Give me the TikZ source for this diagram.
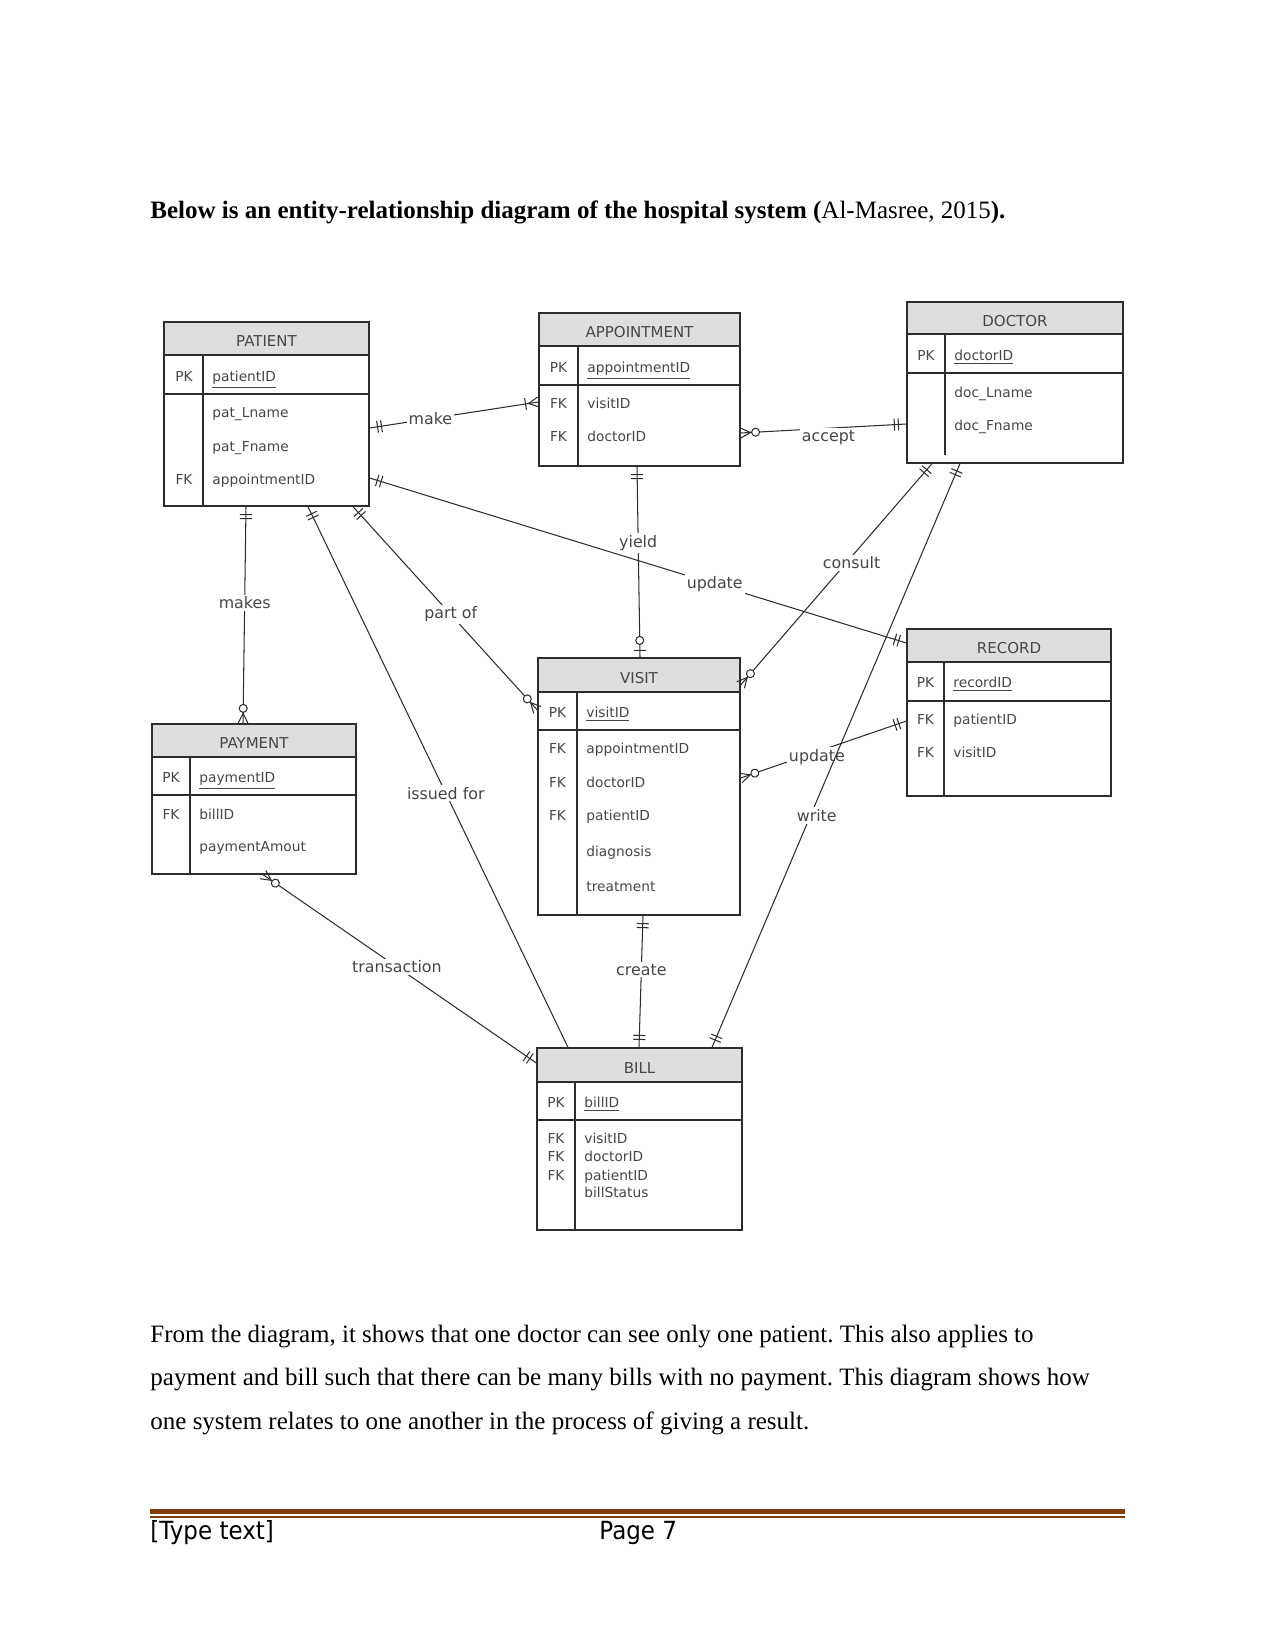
\documentclass[tikz,border=0pt]{standalone}
\usepackage{fontspec}
\setmainfont{Liberation Serif}
\newfontfamily\erfont{DejaVu Sans}
\newfontfamily\footfont[FakeStretch=0.92]{DejaVu Sans}
\frenchspacing
\usetikzlibrary{calc,fit}
\definecolor{linegray}{RGB}{45,45,45}
\definecolor{textgray}{RGB}{70,70,70}
\definecolor{headgray}{RGB}{222,222,222}
\definecolor{rulebrown}{RGB}{128,62,18}
\tikzset{
    entity/.style={draw=linegray, line width=0.6pt, inner sep=0pt},
    entity head/.style={entity, fill=headgray},
    entity name/.style={inner sep=0pt, text=textgray, text height=5pt, text depth=0pt,
        yshift=-1.4pt, font=\erfont\fontsize{7.2}{8}\selectfont},
    attr key/.style={inner sep=0pt, text=textgray, text height=5pt, text depth=0.6pt,
        font=\erfont\fontsize{6.6}{8}\selectfont},
    attr field/.style={attr key, anchor=west},
    relation/.style={draw=linegray, line width=0.5pt},
    relation label/.style={fill=white, inner sep=1pt, text=textgray,
        font=\erfont\fontsize{7.6}{9}\selectfont},
    page text/.style={anchor=west, inner sep=0pt, font=\fontsize{12}{14}\selectfont},
    % end markers, x axis points away from the entity
    one/.pic={\draw[relation] (8,-6) -- (8,6) (12,-6) -- (12,6);},
    zeroone/.pic={\draw[relation] (7,-6) -- (7,6);
        \draw[relation, fill=white] (17,0) circle[radius=4];},
    onemany/.pic={\draw[relation] (0,-5) -- (10,0) -- (0,5) (13,-6) -- (13,6);},
    zeromany/.pic={\draw[relation] (0,-5) -- (10,0) -- (0,5);
        \draw[relation, fill=white] (15,0) circle[radius=4];}
}
\newcommand\ermark[3]{\path let \p1=($(#3)-(#2)$), \n1={atan2(\y1,\x1)} in (#2) pic[rotate=\n1] {#1};}

\begin{document}
\begin{tikzpicture}[x=0.48pt, y=-0.48pt]
    \useasboundingbox (0,0) rectangle (1275,1651);

    \node[page text] (title) at (150,212)
        {\textbf{Below is an entity-relationship diagram of the hospital system (}Al-Masree, 2015\textbf{).}};

    % PATIENT
    \node[entity head, fit={(164,322) (369,355)}] (patient-head) {};
    \node[entity name] (patient-name) at (patient-head.center) {PATIENT};
    \node[entity, fit={(164,322) (369,506)}] (patient) {};
    \draw[entity] (patient.west |- 0,394) -- (patient.east |- 0,394);
    \draw[entity] (patient-head.south -| 203,0) -- (patient.south -| 203,0);
    \node[attr key] (patient-k1) at (184,377) {PK};
    \node[attr field] (patient-f1) at (212,377) {\underline{patientID}};
    \foreach \y/\k/\f [count=\i from 2] in {413/{}/pat\_Lname, 447/{}/pat\_Fname, 480/FK/appointmentID} {
        \node[attr key] (patient-k\i) at (184,\y) {\k};
        \node[attr field] (patient-f\i) at (212,\y) {\f};
    }

    % APPOINTMENT
    \node[entity head, fit={(539,313) (740,346)}] (appointment-head) {};
    \node[entity name] (appointment-name) at (appointment-head.center) {APPOINTMENT};
    \node[entity, fit={(539,313) (740,466)}] (appointment) {};
    \draw[entity] (appointment.west |- 0,385) -- (appointment.east |- 0,385);
    \draw[entity] (appointment-head.south -| 578,0) -- (appointment.south -| 578,0);
    \node[attr key] (appointment-k1) at (558.5,368) {PK};
    \node[attr field] (appointment-f1) at (587,368) {\underline{appointmentID}};
    \foreach \y/\k/\f [count=\i from 2] in {404/FK/visitID, 437/FK/doctorID} {
        \node[attr key] (appointment-k\i) at (558.5,\y) {\k};
        \node[attr field] (appointment-f\i) at (587,\y) {\f};
    }

    % DOCTOR
    \node[entity head, fit={(907,302) (1123,334)}] (doctor-head) {};
    \node[entity name] (doctor-name) at (doctor-head.center) {DOCTOR};
    \node[entity, fit={(907,302) (1123,463)}] (doctor) {};
    \draw[entity] (doctor.west |- 0,373) -- (doctor.east |- 0,373);
    \draw[entity] (doctor-head.south -| 945,0) -- (945,455);
    \node[attr key] (doctor-k1) at (926,356) {PK};
    \node[attr field] (doctor-f1) at (954,356) {\underline{doctorID}};
    \foreach \y/\k/\f [count=\i from 2] in {393/{}/doc\_Lname, 426/{}/doc\_Fname} {
        \node[attr key] (doctor-k\i) at (926,\y) {\k};
        \node[attr field] (doctor-f\i) at (954,\y) {\f};
    }

    % PAYMENT
    \node[entity head, fit={(152,724) (356,757)}] (payment-head) {};
    \node[entity name] (payment-name) at (payment-head.center) {PAYMENT};
    \node[entity, fit={(152,724) (356,874)}] (payment) {};
    \draw[entity] (payment.west |- 0,795) -- (payment.east |- 0,795);
    \draw[entity] (payment-head.south -| 190,0) -- (payment.south -| 190,0);
    \node[attr key] (payment-k1) at (171,778) {PK};
    \node[attr field] (payment-f1) at (199,778) {\underline{paymentID}};
    \foreach \y/\k/\f [count=\i from 2] in {815/FK/billID, 847/{}/paymentAmout} {
        \node[attr key] (payment-k\i) at (171,\y) {\k};
        \node[attr field] (payment-f\i) at (199,\y) {\f};
    }

    % VISIT
    \node[entity head, fit={(538,658) (740,692)}] (visit-head) {};
    \node[entity name] (visit-name) at (visit-head.center) {VISIT};
    \node[entity, fit={(538,658) (740,915)}] (visit) {};
    \draw[entity] (visit.west |- 0,730) -- (visit.east |- 0,730);
    \draw[entity] (visit-head.south -| 577,0) -- (visit.south -| 577,0);
    \node[attr key] (visit-k1) at (557.5,713) {PK};
    \node[attr field] (visit-f1) at (586,713) {\underline{visitID}};
    \foreach \y/\k/\f [count=\i from 2] in {749/FK/appointmentID, 783/FK/doctorID, 816/FK/patientID,
        852/{}/diagnosis, 887/{}/treatment} {
        \node[attr key] (visit-k\i) at (557.5,\y) {\k};
        \node[attr field] (visit-f\i) at (586,\y) {\f};
    }

    % RECORD
    \node[entity head, fit={(907,629) (1111,662)}] (record-head) {};
    \node[entity name] (record-name) at (record-head.center) {RECORD};
    \node[entity, fit={(907,629) (1111,796)}] (record) {};
    \draw[entity] (record.west |- 0,701) -- (record.east |- 0,701);
    \draw[entity] (record-head.south -| 944,0) -- (record.south -| 944,0);
    \node[attr key] (record-k1) at (925.5,683) {PK};
    \node[attr field] (record-f1) at (953,683) {\underline{recordID}};
    \foreach \y/\k/\f [count=\i from 2] in {720/FK/patientID, 753/FK/visitID} {
        \node[attr key] (record-k\i) at (925.5,\y) {\k};
        \node[attr field] (record-f\i) at (953,\y) {\f};
    }

    % BILL
    \node[entity head, fit={(537,1048) (742,1082)}] (bill-head) {};
    \node[entity name] (bill-name) at (bill-head.center) {BILL};
    \node[entity, fit={(537,1048) (742,1230)}] (bill) {};
    \draw[entity] (bill.west |- 0,1120) -- (bill.east |- 0,1120);
    \draw[entity] (bill-head.south -| 575,0) -- (bill.south -| 575,0);
    \node[attr key] (bill-k1) at (556,1103) {PK};
    \node[attr field] (bill-f1) at (584,1103) {\underline{billID}};
    \foreach \y/\k/\f [count=\i from 2] in {1139/FK/visitID, 1157/FK/doctorID, 1176/FK/patientID,
        1193/{}/billStatus} {
        \node[attr key] (bill-k\i) at (556,\y) {\k};
        \node[attr field] (bill-f\i) at (584,\y) {\f};
    }

    % connector ends
    \coordinate (M1) at (patient.east |- 0,428);
    \coordinate (M2) at (appointment.west |- 0,402);
    \coordinate (A1) at (appointment.east |- 0,433);
    \coordinate (A2) at (doctor.west |- 0,424);
    \coordinate (Y1) at (appointment.south -| 637,0);
    \coordinate (Y2) at (visit.north -| 640,0);
    \coordinate (U1) at (patient.east |- 0,478);
    \coordinate (U2) at (record.west |- 0,643);
    \coordinate (C1) at (doctor.south -| 932,0);
    \coordinate (C2) at (visit.east |- 0,685);
    \coordinate (V1) at (visit.east |- 0,778);
    \coordinate (V2) at (record.west |- 0,721);
    \coordinate (W1) at (doctor.south -| 960,0);
    \coordinate (W2) at (bill.north -| 712,0);
    \coordinate (K1) at (patient.south -| 246,0);
    \coordinate (K2) at (payment.north -| 243,0);
    \coordinate (I1) at (patient.south -| 308,0);
    \coordinate (I2) at (bill.north -| 568,0);
    \coordinate (P1) at (patient.south -| 353,0);
    \coordinate (P2) at (visit.west |- 0,710);
    \coordinate (T1) at (payment.south -| 263,0);
    \coordinate (T2) at (bill.west |- 0,1063);
    \coordinate (R1) at (visit.south -| 643,0);
    \coordinate (R2) at (bill.north -| 639,0);

    \draw[relation] (M1) -- (M2) node[relation label, pos=.36] (make) {make};
    \draw[relation] (A1) -- (A2) node[relation label, pos=.53, yshift=-4.5pt] (accept) {accept};
    \draw[relation] (Y1) -- (Y2) node[relation label, pos=.40] (yield) {yield};
    \draw[relation] (U1) -- (U2) node[relation label, pos=.643] (update-rec) {update};
    \draw[relation] (C1) -- (C2) node[relation label, pos=.42, yshift=-3pt] (consult) {consult};
    \draw[relation] (V1) -- (V2) node[relation label, pos=.46, yshift=-2.4pt] (update-vis) {update};
    \draw[relation] (W1) -- (W2) node[relation label, pos=.603, xshift=3pt] (write) {write};
    \draw[relation] (K1) -- (K2) node[relation label, pos=.445] (makes) {makes};
    \draw[relation] (I1) -- (I2) node[relation label, pos=.53] (issued) {issued for};
    \draw[relation] (P1) -- (P2) node[relation label, pos=.53] (partof) {part of};
    \draw[relation] (T1) -- (T2) node[relation label, pos=.49] (transaction) {transaction};
    \draw[relation] (R1) -- (R2) node[relation label, pos=.41] (create) {create};

    \ermark{one}{M1}{M2}      \ermark{onemany}{M2}{M1}
    \ermark{zeromany}{A1}{A2} \ermark{one}{A2}{A1}
    \ermark{one}{Y1}{Y2}      \ermark{zeroone}{Y2}{Y1}
    \ermark{one}{U1}{U2}      \ermark{one}{U2}{U1}
    \ermark{one}{C1}{C2}      \ermark{zeromany}{C2}{C1}
    \ermark{zeromany}{V1}{V2} \ermark{one}{V2}{V1}
    \ermark{one}{W1}{W2}      \ermark{one}{W2}{W1}
    \ermark{one}{K1}{K2}      \ermark{zeromany}{K2}{K1}
    \ermark{one}{I1}{I2}
    \ermark{one}{P1}{P2}      \ermark{zeromany}{P2}{P1}
    \ermark{zeromany}{T1}{T2} \ermark{one}{T2}{T1}
    \ermark{one}{R1}{R2}      \ermark{one}{R2}{R1}

    \node[page text] (body1) at (150,1337)
        {From the diagram, it shows that one doctor can see only one patient. This also applies to};
    \node[page text] (body2) at (150,1380)
        {payment and bill such that there can be many bills with no payment. This diagram shows how};
    \node[page text] (body3) at (150,1423)
        {one system relates to one another in the process of giving a result.};

    % footer
    \fill[rulebrown] (150,1509) rectangle (1125,1514);
    \fill[rulebrown] (150,1516) rectangle (1125,1517.5);
    \node[page text, font=\footfont\fontsize{12}{14}\selectfont] (footer-left) at (150,1533) {[Type text]};
    \node[page text, font=\footfont\fontsize{12}{14}\selectfont] (footer-page) at (599,1533) {Page 7};
\end{tikzpicture}
\end{document}
